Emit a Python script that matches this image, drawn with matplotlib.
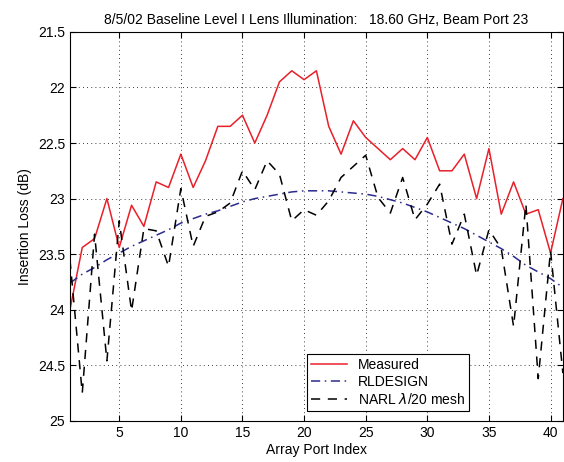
import numpy as np
import matplotlib
matplotlib.use('Agg')
import matplotlib.pyplot as plt

plt.rcParams['font.family'] = ['Liberation Sans', 'DejaVu Sans']

# datos
port = np.arange(1, 42)
measured = [24.0, 23.44, 23.36, 23.0, 23.44, 23.06, 23.25, 22.85, 22.9, 22.6,
            22.9, 22.66, 22.35, 22.35, 22.25, 22.5, 22.25, 21.95, 21.85, 21.93,
            21.85, 22.35, 22.6, 22.3, 22.45, 22.55, 22.65, 22.55, 22.65, 22.45,
            22.75, 22.75, 22.6, 23.0, 22.55, 23.14, 22.85, 23.14, 23.1, 23.49,
            23.0]
rldesign = [23.76, 23.68, 23.62, 23.55, 23.49, 23.43, 23.38, 23.33, 23.28, 23.22,
            23.18, 23.14, 23.11, 23.07, 23.03, 23.0, 22.98, 22.96, 22.94, 22.93,
            22.93, 22.93, 22.94, 22.95, 22.96, 22.98, 23.01, 23.04, 23.08, 23.12,
            23.17, 23.22, 23.27, 23.33, 23.39, 23.45, 23.52, 23.6, 23.66, 23.72,
            23.8]
narl = [23.55, 24.75, 23.32, 24.46, 23.2, 24.01, 23.27, 23.29, 23.61, 22.91,
        23.43, 23.16, 23.12, 23.04, 22.75, 22.92, 22.66, 22.78, 23.2, 23.1,
        23.15, 23.02, 22.81, 22.71, 22.61, 22.99, 23.13, 22.81, 23.19, 23.05,
        22.87, 23.41, 23.14, 23.69, 23.28, 23.45, 24.15, 23.05, 24.62, 23.47,
        24.57]

fig = plt.figure(figsize=(5.64, 4.62), dpi=100)
ax = fig.add_axes([0.124, 0.089, 0.874, 0.842])

ax.plot(port, measured, color='#e8202a', lw=1.1, label='Measured')
ax.plot(port, rldesign, color='#2b2b8c', lw=1.1, ls=(0, (6, 3, 1, 3)), label='RLDESIGN')
ax.plot(port, narl, color='black', lw=1.1, ls=(0, (6, 5)), label='NARL $\\lambda$/20 mesh')

ax.set_xlim(1, 41)
ax.set_ylim(25, 21.5)
ax.set_xticks([5, 10, 15, 20, 25, 30, 35, 40])
ax.set_yticks([21.5, 22, 22.5, 23, 23.5, 24, 24.5, 25])
ax.set_yticklabels(['21.5', '22', '22.5', '23', '23.5', '24', '24.5', '25'])
ax.tick_params(direction='in', top=True, right=True, labelsize=10, length=4)
ax.grid(True, color='black', ls=(0, (1, 4)), lw=0.6)
for s in ax.spines.values():
    s.set_linewidth(0.8)

ax.set_xlabel('Array Port Index', fontsize=10, labelpad=2)
ax.set_ylabel('Insertion Loss (dB)', fontsize=10, labelpad=4)
ax.set_title('8/5/02 Baseline Level I Lens Illumination:   18.60 GHz, Beam Port 23',
             fontsize=10, pad=6)

leg = ax.legend(loc='lower left', bbox_to_anchor=(0.466, 0.008), fontsize=10,
                frameon=True, fancybox=False, edgecolor='black', framealpha=1,
                handlelength=2.6, borderpad=0.3, labelspacing=0.2)
leg.get_frame().set_linewidth(0.8)

plt.savefig('out.png', dpi=100)
